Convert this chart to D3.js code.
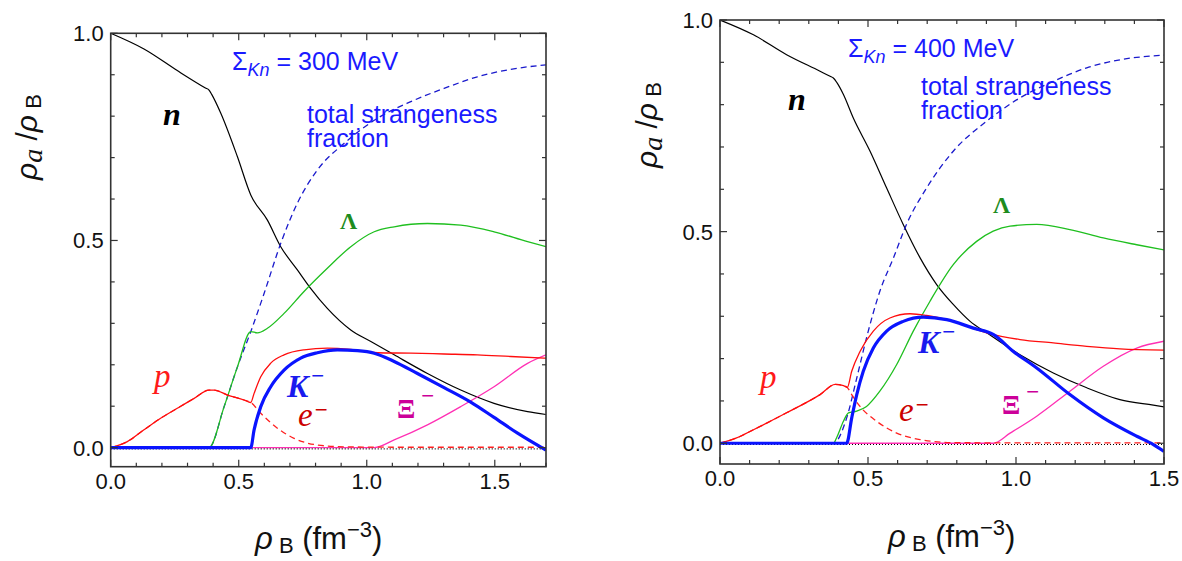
<!DOCTYPE html>
<html>
<head>
<meta charset="utf-8">
<script src="https://cdn.jsdelivr.net/npm/d3@7/dist/d3.min.js"></script>
<style>
  html, body { margin: 0; padding: 0; background: #fff; }
  svg { display: block; }
</style>
</head>
<body>
<svg id="chart" width="1182" height="561" font-family="Liberation Sans, Arial, sans-serif"></svg>
<script>
// ---------------- DATA ----------------
// Left panel: Sigma_Kn = 300 MeV
const L_neutron = [[0,1.0],[0.13,0.962],[0.26,0.91],[0.37,0.868],[0.384,0.863],[0.395,0.852],[0.43,0.807],[0.495,0.702],[0.547,0.61],[0.612,0.549],[0.664,0.485],[0.729,0.429],[0.78,0.385],[0.846,0.336],[0.9375,0.284],[1.016,0.256],[1.107,0.224],[1.237,0.179],[1.367,0.139],[1.497,0.107],[1.628,0.087],[1.7,0.080]];
const L_strangeness = [[0,0],[0.384,0],[0.443,0.099],[0.495,0.195],[0.547,0.28],[0.599,0.372],[0.664,0.493],[0.729,0.59],[0.807,0.67],[0.911,0.734],[1.042,0.795],[1.172,0.835],[1.302,0.867],[1.432,0.895],[1.5625,0.913],[1.7,0.924]];
const L_lambda = [[0,0],[0.384,0],[0.443,0.099],[0.495,0.195],[0.547,0.28],[0.573,0.277],[0.612,0.288],[0.677,0.324],[0.755,0.377],[0.846,0.433],[0.9375,0.485],[1.029,0.521],[1.107,0.533],[1.237,0.541],[1.367,0.537],[1.497,0.521],[1.628,0.497],[1.7,0.485]];
const L_proton = [[0,0],[0.065,0.0145],[0.13,0.043],[0.195,0.071],[0.26,0.095],[0.326,0.119],[0.384,0.139],[0.404,0.139],[0.456,0.127],[0.521,0.115],[0.547,0.109],[0.56,0.131],[0.586,0.171],[0.625,0.204],[0.677,0.224],[0.755,0.236],[0.846,0.24],[0.9375,0.237],[1.042,0.229],[1.172,0.228],[1.302,0.226],[1.432,0.224],[1.5625,0.22],[1.7,0.216]];
const L_electron = [[0,0],[0.065,0.0145],[0.13,0.043],[0.195,0.071],[0.26,0.095],[0.326,0.119],[0.384,0.139],[0.404,0.139],[0.456,0.127],[0.521,0.115],[0.547,0.109],[0.586,0.083],[0.651,0.047],[0.716,0.0225],[0.807,0.0064],[0.911,0.002],[1.1,0.001],[1.7,0.001]];
const L_kaon = [[0,0],[0.547,0],[0.56,0.043],[0.586,0.099],[0.625,0.147],[0.677,0.187],[0.742,0.216],[0.807,0.229],[0.885,0.236],[0.9635,0.234],[1.029,0.228],[1.107,0.208],[1.198,0.179],[1.302,0.145],[1.406,0.11],[1.497,0.073],[1.589,0.035],[1.7,-0.006]];
const L_xi = [[0,0],[1.029,0],[1.107,0.0185],[1.237,0.055],[1.367,0.099],[1.497,0.147],[1.628,0.2035],[1.7,0.224]];
const L_muon = [[0,-0.003],[1.7,-0.003]];

// Right panel: Sigma_Kn = 400 MeV
const R_neutron = [[0,1.0],[0.113,0.965],[0.225,0.918],[0.338,0.879],[0.372,0.867],[0.383,0.863],[0.395,0.852],[0.417,0.824],[0.45,0.769],[0.507,0.69],[0.563,0.603],[0.619,0.517],[0.676,0.438],[0.732,0.375],[0.788,0.328],[0.845,0.288],[0.901,0.261],[1.0135,0.209],[1.126,0.166],[1.239,0.131],[1.351,0.103],[1.464,0.09],[1.5,0.086]];
const R_strangeness = [[0,0],[0.383,0],[0.428,0.06],[0.462,0.154],[0.495,0.249],[0.54,0.359],[0.586,0.438],[0.63,0.517],[0.698,0.603],[0.788,0.69],[0.901,0.761],[1.0135,0.816],[1.126,0.855],[1.239,0.887],[1.351,0.906],[1.5,0.917]];
const R_lambda = [[0,0],[0.383,0],[0.394,0.013],[0.417,0.052],[0.434,0.072],[0.462,0.076],[0.495,0.087],[0.54,0.123],[0.597,0.186],[0.653,0.265],[0.709,0.335],[0.788,0.422],[0.867,0.477],[0.923,0.501],[0.98,0.513],[1.07,0.517],[1.182,0.505],[1.295,0.485],[1.408,0.469],[1.5,0.457]];
const R_proton = [[0,0],[0.056,0.0126],[0.113,0.032],[0.225,0.072],[0.338,0.115],[0.389,0.139],[0.417,0.136],[0.43,0.132],[0.445,0.17],[0.473,0.217],[0.518,0.265],[0.574,0.296],[0.642,0.306],[0.698,0.302],[0.788,0.288],[0.901,0.261],[1.0135,0.245],[1.126,0.237],[1.239,0.229],[1.351,0.223],[1.5,0.22]];
const R_electron = [[0,0],[0.056,0.0126],[0.113,0.032],[0.225,0.072],[0.338,0.115],[0.389,0.139],[0.417,0.136],[0.43,0.132],[0.445,0.115],[0.473,0.087],[0.529,0.052],[0.597,0.024],[0.676,0.0087],[0.788,0.0016],[0.95,0.001],[1.5,0.001]];
const R_kaon = [[0,0],[0.428,0],[0.445,0.06],[0.462,0.115],[0.484,0.17],[0.518,0.225],[0.563,0.265],[0.619,0.288],[0.687,0.298],[0.766,0.292],[0.856,0.272],[0.923,0.257],[0.991,0.217],[1.07,0.178],[1.182,0.115],[1.295,0.06],[1.408,0.0165],[1.464,-0.003],[1.5,-0.019]];
const R_xi = [[0,0],[0.923,0],[0.98,0.024],[1.07,0.064],[1.182,0.123],[1.295,0.182],[1.408,0.225],[1.5,0.241]];
const R_muon = [[0,-0.003],[1.5,-0.003]];

// Tick labels
const L_xTickLabels = [0, 0.5, 1.0, 1.5];
const R_xTickLabels = [0, 0.5, 1.0, 1.5];
const yTickLabels = [0, 0.5, 1.0];
const panelTitles = ["300 MeV", "400 MeV"];

// ---------------- DRAWING ----------------
const svg = d3.select("#chart");
const SANS = "Liberation Sans, Arial, sans-serif";
const SERIF = "Liberation Serif, Times New Roman, serif";

const COLORS = {
  n: "#000000", strange: "#1a1acc", lambda: "#1fbf1f", p: "#ff0d0d",
  e: "#ff2020", K: "#0a14ff", xi: "#ff30b4"
};

function drawPanel(cfg) {
  const g = svg.append("g");
  const x = d3.scaleLinear().domain(cfg.xDomain).range([cfg.left, cfg.right]);
  const y = d3.scaleLinear().domain(cfg.yDomain).range([cfg.bottom, cfg.top]);

  const clipId = "clip" + cfg.id;
  svg.append("clipPath").attr("id", clipId).append("rect")
    .attr("x", cfg.left).attr("y", cfg.top)
    .attr("width", cfg.right - cfg.left).attr("height", cfg.bottom - cfg.top);

  const line = d3.line().x(d => x(d[0])).y(d => y(d[1])).curve(d3.curveMonotoneX);
  const plot = g.append("g").attr("clip-path", `url(#${clipId})`);

  const series = [
    {d: cfg.data.n, c: COLORS.n, w: 1.2},
    {d: cfg.data.strange, c: COLORS.strange, w: 1.3, dash: "6,4"},
    {d: cfg.data.lambda, c: COLORS.lambda, w: 1.3},
    {d: cfg.data.xi, c: COLORS.xi, w: 1.3},
    {d: cfg.data.e, c: COLORS.e, w: 1.3, dash: "6,4"},
    {d: cfg.data.muon, c: "#000", w: 1.1, dash: "1,2"},
    {d: cfg.data.p, c: COLORS.p, w: 1.3},
    {d: cfg.data.K, c: COLORS.K, w: 3.2},
  ];
  series.forEach(s => {
    plot.append("path").datum(s.d)
      .attr("fill", "none").attr("stroke", s.c).attr("stroke-width", s.w)
      .attr("stroke-dasharray", s.dash || null)
      .attr("stroke-linejoin", "round")
      .attr("d", line);
  });

  // frame
  g.append("rect").attr("x", cfg.left).attr("y", cfg.top)
    .attr("width", cfg.right - cfg.left).attr("height", cfg.bottom - cfg.top)
    .attr("fill", "none").attr("stroke", "#333").attr("stroke-width", 1.6);

  // ticks (inward on all sides)
  const tickG = g.append("g").attr("stroke", "#333").attr("stroke-width", 1.2);
  const xMinor = d3.range(0, cfg.xDomain[1] + 1e-9, 0.1);
  xMinor.forEach(v => {
    const major = Math.abs(v * 2 - Math.round(v * 2)) < 1e-6;
    const len = major ? 7 : 4;
    tickG.append("line").attr("x1", x(v)).attr("x2", x(v)).attr("y1", cfg.bottom).attr("y2", cfg.bottom - len);
    tickG.append("line").attr("x1", x(v)).attr("x2", x(v)).attr("y1", cfg.top).attr("y2", cfg.top + len);
  });
  const yMinor = d3.range(0, 1.0 + 1e-9, 0.1);
  yMinor.forEach(v => {
    const major = Math.abs(v * 2 - Math.round(v * 2)) < 1e-6;
    const len = major ? 7 : 4;
    tickG.append("line").attr("y1", y(v)).attr("y2", y(v)).attr("x1", cfg.left).attr("x2", cfg.left + len);
    tickG.append("line").attr("y1", y(v)).attr("y2", y(v)).attr("x1", cfg.right).attr("x2", cfg.right - len);
  });

  // tick labels
  cfg.xLabels.forEach(v => {
    g.append("text").attr("x", x(v)).attr("y", cfg.bottom + 22)
      .attr("text-anchor", "middle").attr("font-size", 22).attr("fill", "#111")
      .text(d3.format(".1f")(v));
  });
  yTickLabels.forEach(v => {
    g.append("text").attr("x", cfg.left - 7).attr("y", y(v) + 8)
      .attr("text-anchor", "end").attr("font-size", 22).attr("fill", "#111")
      .text(d3.format(".1f")(v));
  });

  // y axis title (rotated)
  const yt = g.append("text")
    .attr("transform", `translate(${cfg.yTitle[0]},${cfg.yTitle[1]}) rotate(-90)`)
    .attr("font-size", 30).attr("fill", "#111");
  yt.append("tspan").attr("font-style", "italic").text("ρ");
  yt.append("tspan").attr("font-family", SERIF).attr("font-style", "italic")
    .attr("font-size", 28).attr("dy", 5).text("a");
  yt.append("tspan").attr("dy", -5).text("  /");
  yt.append("tspan").attr("font-style", "italic").text("ρ");
  yt.append("tspan").attr("font-size", 22).attr("dy", 4).text(" B");

  // x axis title
  const xt = g.append("text").attr("x", cfg.xTitle[0]).attr("y", cfg.xTitle[1])
    .attr("font-size", 31).attr("fill", "#111");
  xt.append("tspan").attr("font-style", "italic").text("ρ");
  xt.append("tspan").attr("font-size", 22).attr("dy", 4).text(" B");
  xt.append("tspan").attr("dy", -4).text(" (fm");
  xt.append("tspan").attr("font-size", 22).attr("dy", -12).text("−3");
  xt.append("tspan").attr("dy", 12).text(")");

  // annotations
  const L = cfg.labels;
  const sig = g.append("text").attr("x", L.sigma[0]).attr("y", L.sigma[1])
    .attr("font-size", 25).attr("fill", "#1a1aff");
  sig.append("tspan").text("Σ");
  sig.append("tspan").attr("font-style", "italic").attr("font-size", 18).attr("dy", 6).text("Kn");
  sig.append("tspan").attr("dy", -6).text(" = " + cfg.title);

  g.append("text").attr("x", L.tot[0]).attr("y", L.tot[1])
    .attr("font-size", 25).attr("fill", "#1a1aff").text("total strangeness");
  g.append("text").attr("x", L.tot[0]).attr("y", L.tot[1] + 24)
    .attr("font-size", 25).attr("fill", "#1a1aff").text("fraction");

  g.append("text").attr("x", L.n[0]).attr("y", L.n[1]).attr("font-family", SERIF)
    .attr("font-style", "italic").attr("font-weight", "bold").attr("font-size", 32).attr("fill", "#000").text("n");
  g.append("text").attr("x", L.lam[0]).attr("y", L.lam[1]).attr("font-family", SERIF)
    .attr("font-weight", "bold").attr("font-size", 24).attr("fill", "#1e8c1e").text("Λ");
  g.append("text").attr("x", L.p[0]).attr("y", L.p[1]).attr("font-family", SERIF)
    .attr("font-style", "italic").attr("font-size", 33).attr("fill", "#ff1a1a").text("p");

  const k = g.append("text").attr("x", L.K[0]).attr("y", L.K[1]).attr("font-family", SERIF)
    .attr("font-style", "italic").attr("font-weight", "bold").attr("font-size", 32).attr("fill", "#1a1aee");
  k.append("tspan").text("K");
  k.append("tspan").attr("font-family", SANS).attr("font-style", "normal").attr("font-weight", "normal")
    .attr("font-size", 22).attr("dy", -14).attr("dx", 3).text("−");

  const e = g.append("text").attr("x", L.e[0]).attr("y", L.e[1]).attr("font-family", SERIF)
    .attr("font-style", "italic").attr("font-size", 33).attr("fill", "#cc0000");
  e.append("tspan").text("e");
  e.append("tspan").attr("font-family", SANS).attr("font-style", "normal").attr("font-size", 22)
    .attr("dy", -9).attr("dx", 2).text("−");

  const xi = g.append("text").attr("x", L.xi[0]).attr("y", L.xi[1]).attr("font-family", SERIF)
    .attr("font-weight", "bold").attr("font-size", 27).attr("fill", "#cc0099");
  xi.append("tspan").text("Ξ");
  xi.append("tspan").attr("font-family", SANS).attr("font-weight", "normal").attr("font-size", 22)
    .attr("dy", -15).attr("dx", 6).text("−");
}

drawPanel({
  id: "L", title: panelTitles[0],
  xDomain: [0, 1.7], yDomain: [-0.046, 1.0],
  left: 110.7, right: 546, top: 33.3, bottom: 466.7,
  xLabels: L_xTickLabels,
  data: {n: L_neutron, strange: L_strangeness, lambda: L_lambda, p: L_proton, e: L_electron, K: L_kaon, xi: L_xi, muon: L_muon},
  yTitle: [37, 180], xTitle: [255, 549],
  labels: {sigma: [232, 70], tot: [307, 123], n: [163, 125], lam: [340, 229], p: [154, 387], K: [287, 397], e: [298, 426], xi: [397, 418]}
});

drawPanel({
  id: "R", title: panelTitles[1],
  xDomain: [0, 1.5], yDomain: [-0.049, 1.0],
  left: 720, right: 1164, top: 20, bottom: 464,
  xLabels: R_xTickLabels,
  data: {n: R_neutron, strange: R_strangeness, lambda: R_lambda, p: R_proton, e: R_electron, K: R_kaon, xi: R_xi, muon: R_muon},
  yTitle: [657, 168], xTitle: [888, 547],
  labels: {sigma: [848, 57], tot: [921, 95], n: [788, 110], lam: [993, 213], p: [760, 388], K: [918, 353], e: [899, 421], xi: [1002, 414]}
});
</script>
</body>
</html>
